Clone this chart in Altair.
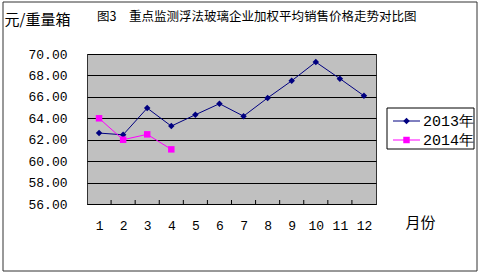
import altair as alt
import pandas as pd

months = [1, 2, 3, 4, 5, 6, 7, 8, 9, 10, 11, 12]
price_2013 = [62.62, 62.46, 64.95, 63.27, 64.33, 65.36, 64.2, 65.9, 67.5, 69.25, 67.7, 66.1]
months_2014 = [1, 2, 3, 4]
price_2014 = [64.0, 62.0, 62.5, 61.1]
series_names = ["2013年", "2014年"]
series_colors = ["#000080", "#FF00FF"]
series_shapes = ["diamond", "square"]
y_ticks = [56, 58, 60, 62, 64, 66, 68, 70]
title_text = "图3\u3000重点监测浮法玻璃企业加权平均销售价格走势对比图"
y_title = "元/重量箱"
x_title = "月份"

CJK = "Noto Sans CJK SC"
NUM = "Liberation Mono"

df13 = pd.DataFrame({"month": months, "price": price_2013, "series": series_names[0]})
df14 = pd.DataFrame({"month": months_2014, "price": price_2014, "series": series_names[1]})
tick_df = pd.DataFrame({"month": [m + 0.5 for m in months[:-1]]})

x_axis = alt.Axis(
    values=months, tickSize=0, grid=False, domainColor="#000000",
    labelPadding=15, labelFontSize=13, labelFont=NUM, labelColor="#000000",
    labelFlush=False, labelOverlap=False, title=x_title, titleFont=CJK, titleFontSize=15,
    titleFontWeight="normal", titleColor="#000000", titleAngle=0,
    titleAlign="left", titleBaseline="middle", titleX=318, titleY=18,
)
x_scale = alt.Scale(domain=[0.5, 12.5], nice=False)
x_enc = alt.X("month:Q", scale=x_scale, axis=x_axis)
y_enc = alt.Y(
    "price:Q",
    scale=alt.Scale(domain=[56, 70], nice=False, zero=False),
    axis=alt.Axis(
        values=y_ticks, format=".2f", tickSize=0, domain=False, grid=True,
        gridColor="#000000", gridWidth=1, gridOpacity=1,
        labelPadding=20, labelFontSize=13, labelFont=NUM, labelColor="#000000",
        labelOverlap=False,
        title=y_title, titleFont=CJK, titleFontSize=15, titleFontWeight="normal",
        titleColor="#000000", titleAngle=0, titleAlign="left",
        titleBaseline="middle", titleX=-83, titleY=-35,
    ),
)

frame = alt.Chart(pd.DataFrame({"a": [0]})).mark_rect(
    filled=False, stroke="#333333", strokeWidth=1
).encode(x=alt.value(-84), x2=alt.value(390), y=alt.value(-52), y2=alt.value(217))

ticks = alt.Chart(tick_df).mark_rule(color="#000000", strokeWidth=1).encode(
    x=x_enc,
    y=alt.value(146), y2=alt.value(150),
)

layers = [frame]
for df, color, shape in [(df13, series_colors[0], series_shapes[0]), (df14, series_colors[1], series_shapes[1])]:
    base = alt.Chart(df).encode(x=x_enc, y=y_enc)
    layers.append(base.mark_line(color=color, strokeWidth=1))
    layers.append(base.mark_point(shape=shape, filled=True, size=42, color=color, opacity=1))
layers.append(ticks)

title = alt.Chart(pd.DataFrame({"t": [title_text]})).mark_text(
    font=CJK, fontSize=12.5, align="left", baseline="middle", color="#000000"
).encode(x=alt.value(10), y=alt.value(-37), text="t:N")
layers.append(title)

# legend box
layers.append(
    alt.Chart(pd.DataFrame({"a": [0]})).mark_rect(
        fill="#FFFFFF", stroke="#000000", strokeWidth=1
    ).encode(x=alt.value(300), x2=alt.value(387), y=alt.value(54), y2=alt.value(95))
)
for i, (name, color, shape) in enumerate(zip(series_names, series_colors, series_shapes)):
    yy = 67 + 19 * i
    d = pd.DataFrame({"series": [name]})
    layers.append(alt.Chart(d).mark_rule(color=color, strokeWidth=1).encode(
        x=alt.value(306), x2=alt.value(333), y=alt.value(yy)))
    layers.append(alt.Chart(d).mark_point(shape=shape, filled=True, size=42, color=color, opacity=1).encode(
        x=alt.value(319.5), y=alt.value(yy)))
    layers.append(alt.Chart(d).mark_text(font=NUM, fontSize=15, align="left", baseline="middle", color="#000000").encode(
        x=alt.value(336), y=alt.value(yy), text="series:N"))

chart = alt.layer(*layers).properties(
    width=289, height=150,
    autosize=alt.AutoSizeParams(type="none"),
    padding={"left": 87, "top": 54, "right": 104, "bottom": 69},
    background="#FFFFFF",
).configure_view(fill="#C0C0C0", stroke="#333333", strokeWidth=1
).configure_axis(labelOverlap=False)

chart.save("out.html", embed_options={"renderer": "svg", "actions": False})
